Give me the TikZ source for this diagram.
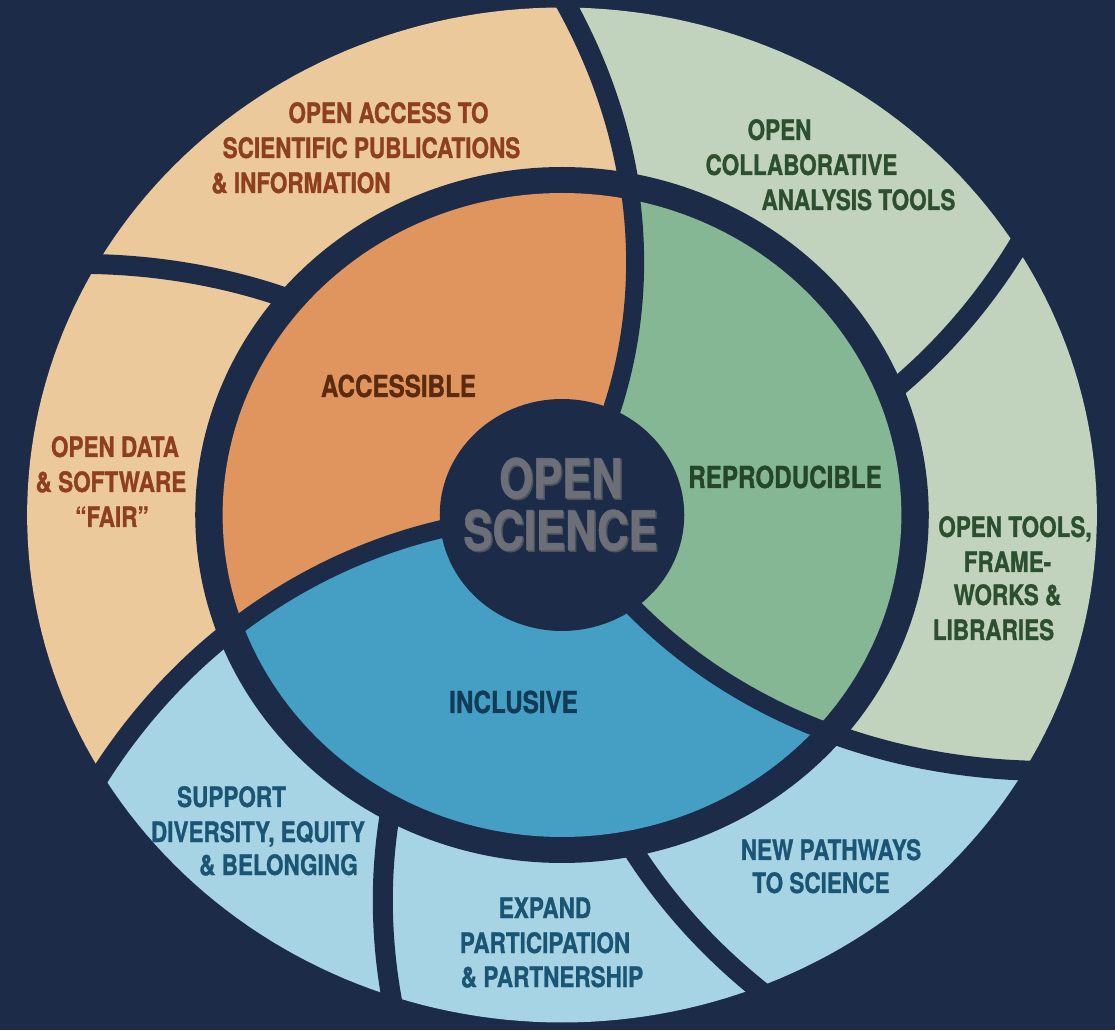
\documentclass[tikz,border=0pt]{standalone}
\usepackage{fontspec}
\newfontfamily\labfont{TeX Gyre Heros}[FakeStretch=0.8, BoldFeatures={FakeBold=1}]
\definecolor{navy}{HTML}{1B2B48}
\definecolor{beige}{HTML}{EBC99A}
\definecolor{orangeA}{HTML}{E0955F}
\definecolor{sage}{HTML}{C2D3BD}
\definecolor{greenR}{HTML}{86B795}
\definecolor{skyL}{HTML}{A6D4E5}
\definecolor{blueI}{HTML}{459FC4}
\definecolor{brownT}{HTML}{8E3F1E}
\definecolor{brownD}{HTML}{5B2B10}
\definecolor{greenT}{HTML}{2C4F30}
\definecolor{greenD}{HTML}{24472A}
\definecolor{blueT}{HTML}{1B5573}
\definecolor{blueD}{HTML}{123B58}
\definecolor{grayT}{HTML}{6C6F78}
\definecolor{grayS}{HTML}{50545E}
\tikzset{
  lbl/.style={font=\labfont\bfseries\fontsize{8}{9.6}\selectfont, anchor=base, inner sep=0pt},
  core/.style={font=\labfont\bfseries\fontsize{8.6}{10}\selectfont, anchor=base, inner sep=0pt},
  hub/.style={font=\labfont\bfseries\fontsize{15.5}{18}\selectfont, anchor=base, inner sep=0pt},
  outerline/.style={draw=navy, line width=0.2cm},
  innerline/.style={draw=navy, line width=0.18cm}
}
% outer ring segment between two spiral dividers (angles at r=348)
\newcommand\outerseg[3]{%
  \fill[#1] plot[domain=330:545,samples=12] ({#2+0.06*(\x-348)}:\x)
    -- ({(#2+#3)/2+7}:780)
    -- plot[domain=545:330,samples=12] ({#3+0.06*(\x-348)}:\x) -- cycle;}
% inner disc segment
\newcommand\innerseg[3]{%
  \fill[#1] plot[domain=95:345,samples=14] ({#2+0.06*(\x-348)}:\x)
    -- ({#2+(#3-#2)/4+5}:520) -- ({(#2+#3)/2+5}:520) -- ({#2+3*(#3-#2)/4+5}:520)
    -- plot[domain=345:95,samples=14] ({#3+0.06*(\x-348)}:\x) -- cycle;}
\newcommand\spiralline[4]{%
  \draw[#4] plot[domain=#2:#3,samples=30] ({#1+0.06*(\x-348)}:\x);}
\begin{document}
\begin{tikzpicture}[x=0.01cm,y=0.01cm]
\useasboundingbox (0,0) rectangle (1115,1030);
\fill[navy] (0,0) rectangle (1115,1030);
\begin{scope}[shift={(562,515)}, xscale=1.054]
  % outer ring
  \begin{scope}
    \clip plot[domain=0:360,samples=241] (\x:507.5) -- cycle;
    \outerseg{sage}{22.2}{79.8}
    \outerseg{beige}{79.8}{140.8}
    \outerseg{beige}{140.8}{201}
    \outerseg{skyL}{201}{241.8}
    \outerseg{skyL}{241.8}{281.75}
    \outerseg{skyL}{281.75}{320.2}
    \outerseg{sage}{320.2}{382.2}
  \end{scope}
  \fill[navy] plot[domain=0:360,samples=241] (\x:348) -- cycle;
  % inner disc
  \begin{scope}
    \clip plot[domain=0:360,samples=241] (\x:322) -- cycle;
    \innerseg{orangeA}{79.8}{201}
    \innerseg{blueI}{201}{320.2}
    \innerseg{greenR}{320.2}{439.8}
  \end{scope}
  \fill[navy] plot[domain=0:360,samples=121] (\x:116) -- cycle;
  % dividers
  \spiralline{22.2}{335}{530}{outerline}
  \spiralline{140.8}{335}{530}{outerline}
  \spiralline{241.8}{335}{530}{outerline}
  \spiralline{281.75}{335}{530}{outerline}
  \spiralline{79.8}{100}{338}{innerline}
  \spiralline{201}{100}{338}{innerline}
  \spiralline{320.2}{100}{338}{innerline}
  \spiralline{79.8}{334}{530}{outerline}
  \spiralline{201}{334}{530}{outerline}
  \spiralline{320.2}{334}{530}{outerline}
\end{scope}
% outer labels
\node[lbl, text=brownT] (oa1) at (388.5,907) {OPEN ACCESS TO};
\node[lbl, text=brownT] (oa2) at (371.5,872) {SCIENTIFIC PUBLICATIONS};
\node[lbl, text=brownT] (oa3) at (301,837) {\& INFORMATION};
\node[lbl, text=greenT] (oc1) at (779.5,890) {OPEN};
\node[lbl, text=greenT] (oc2) at (801.5,855) {COLLABORATIVE};
\node[lbl, text=greenT] (oc3) at (858.5,820) {ANALYSIS TOOLS};
\node[lbl, text=brownT] (od1) at (115,573) {OPEN DATA};
\node[lbl, text=brownT] (od2) at (111,538) {\& SOFTWARE};
\node[lbl, text=brownT] (od3) at (112,503) {“FAIR”};
\node[lbl, text=greenT] (ot1) at (1015,493) {OPEN TOOLS,};
\node[lbl, text=greenT] (ot2) at (1007.5,458) {FRAME-};
\node[lbl, text=greenT] (ot3) at (1007.5,425) {WORKS \&};
\node[lbl, text=greenT] (ot4) at (993.5,390) {LIBRARIES};
\node[lbl, text=blueT] (sd1) at (231.5,223) {SUPPORT};
\node[lbl, text=blueT] (sd2) at (258,188) {DIVERSITY, EQUITY};
\node[lbl, text=blueT] (sd3) at (278.5,155) {\& BELONGING};
\node[lbl, text=blueT] (ep1) at (545,112) {EXPAND};
\node[lbl, text=blueT] (ep2) at (545,77) {PARTICIPATION};
\node[lbl, text=blueT] (ep3) at (552,43) {\& PARTNERSHIP};
\node[lbl, text=blueT] (np1) at (831,170) {NEW PATHWAYS};
\node[lbl, text=blueT] (np2) at (821,137) {TO SCIENCE};
% inner labels
\node[core, text=brownD] (acc) at (398.5,633) {ACCESSIBLE};
\node[core, text=greenD] (rep) at (785,542) {REPRODUCIBLE};
\node[core, text=blueD] (inc) at (513.5,317) {INCLUSIVE};
% hub
\node[hub, text=grayS] (hubs1) at (562.5,530.5) {OPEN};
\node[hub, text=grayS] (hubs2) at (562,478.5) {SCIENCE};
\node[hub, text=grayT] (hub1) at (561,532) {OPEN};
\node[hub, text=grayT] (hub2) at (560.5,480) {SCIENCE};
\end{tikzpicture}
\end{document}
